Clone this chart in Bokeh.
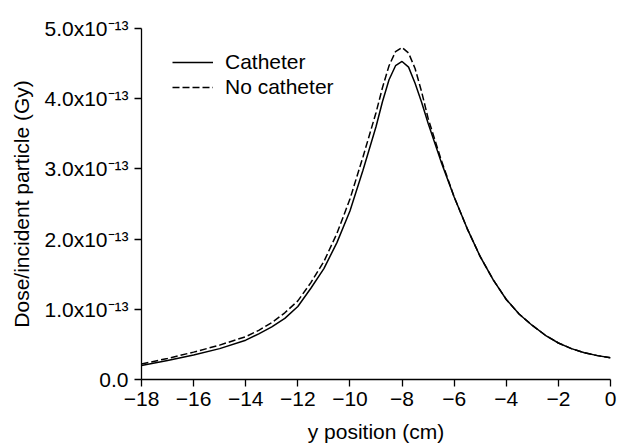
from bokeh.plotting import figure
from bokeh.models import FixedTicker, Range1d, Legend, LegendItem
from bokeh.embed import file_html
from bokeh.resources import INLINE

# y position (cm)
x_pos = [-18, -17, -16, -15, -14, -13.5, -13, -12.5, -12, -11.5, -11, -10.5,
         -10, -9.5, -9, -8.75, -8.5, -8.25, -8, -7.75, -7.5, -7.25, -7, -6.5,
         -6, -5.5, -5, -4.5, -4, -3.5, -3, -2.5, -2, -1.5, -1, -0.5, 0]
# Dose per incident particle, in units of 1e-13 Gy
catheter = [0.20, 0.27, 0.35, 0.44, 0.56, 0.65, 0.75, 0.87, 1.04, 1.30, 1.58,
            1.95, 2.40, 2.98, 3.60, 3.96, 4.27, 4.47, 4.53, 4.45, 4.22, 3.95,
            3.65, 3.10, 2.60, 2.15, 1.75, 1.42, 1.14, 0.93, 0.77, 0.63, 0.52,
            0.44, 0.38, 0.34, 0.31]
no_catheter = [0.22, 0.30, 0.39, 0.49, 0.61, 0.70, 0.81, 0.95, 1.12, 1.38,
               1.68, 2.08, 2.57, 3.17, 3.80, 4.16, 4.47, 4.67, 4.73, 4.65,
               4.43, 4.10, 3.72, 3.13, 2.60, 2.15, 1.75, 1.42, 1.14, 0.93,
               0.77, 0.63, 0.52, 0.44, 0.38, 0.34, 0.31]

x_ticks = [-18, -16, -14, -12, -10, -8, -6, -4, -2, 0]
x_tick_labels = ["\u221218", "\u221216", "\u221214", "\u221212", "\u221210",
                 "\u22128", "\u22126", "\u22124", "\u22122", "0"]
y_ticks = [0, 1, 2, 3, 4, 5]
y_tick_labels = ["0.0", "1.0x10\u207b\u00b9\u00b3", "2.0x10\u207b\u00b9\u00b3",
                 "3.0x10\u207b\u00b9\u00b3", "4.0x10\u207b\u00b9\u00b3",
                 "5.0x10\u207b\u00b9\u00b3"]

FONT = "Liberation Sans"

p = figure(width=620, height=446, output_backend="svg", toolbar_location=None,
           x_range=Range1d(-18, 0), y_range=Range1d(0, 5),
           min_border_left=141, min_border_right=10, min_border_top=28,
           min_border_bottom=67)
p.outline_line_color = None
p.xgrid.grid_line_color = None
p.ygrid.grid_line_color = None
p.background_fill_color = "white"
p.border_fill_color = "white"

r1 = p.line(x_pos, catheter, line_color="black", line_width=1.5)
r2 = p.line(x_pos, no_catheter, line_color="black", line_width=1.5,
            line_dash="7 3")

for ax in (p.xaxis[0], p.yaxis[0]):
    ax.axis_line_color = "black"
    ax.axis_line_width = 1.3
    ax.major_tick_line_color = "black"
    ax.major_tick_line_width = 1.3
    ax.major_tick_out = 7
    ax.major_tick_in = 0
    ax.minor_tick_line_color = None
    ax.major_label_text_font = FONT
    ax.major_label_text_font_size = "21px"
    ax.major_label_text_color = "black"
    ax.axis_label_text_font = FONT
    ax.axis_label_text_font_size = "21px"
    ax.axis_label_text_font_style = "normal"
    ax.axis_label_text_color = "black"

p.xaxis.ticker = FixedTicker(ticks=x_ticks)
p.xaxis.major_label_overrides = dict(zip(x_ticks, x_tick_labels))
p.xaxis.axis_label = "y position (cm)"
p.xaxis.axis_label_standoff = 11
p.xaxis.major_label_standoff = 5

p.yaxis.ticker = FixedTicker(ticks=y_ticks)
p.yaxis.major_label_overrides = dict(zip(y_ticks, y_tick_labels))
p.yaxis.axis_label = "Dose/incident particle (Gy)"
p.yaxis.axis_label_standoff = 8
p.yaxis.major_label_standoff = 6

legend = Legend(items=[LegendItem(label="Catheter", renderers=[r1]),
                       LegendItem(label="No catheter", renderers=[r2])],
                location=(31, 280), border_line_color=None,
                background_fill_alpha=0, padding=0, margin=0,
                label_text_font=FONT, label_text_font_size="21px",
                label_text_color="black",
                glyph_width=41, glyph_height=20, label_height=20,
                label_standoff=12, spacing=1)
p.add_layout(legend)

open("out.html", "w").write(file_html(p, INLINE))
